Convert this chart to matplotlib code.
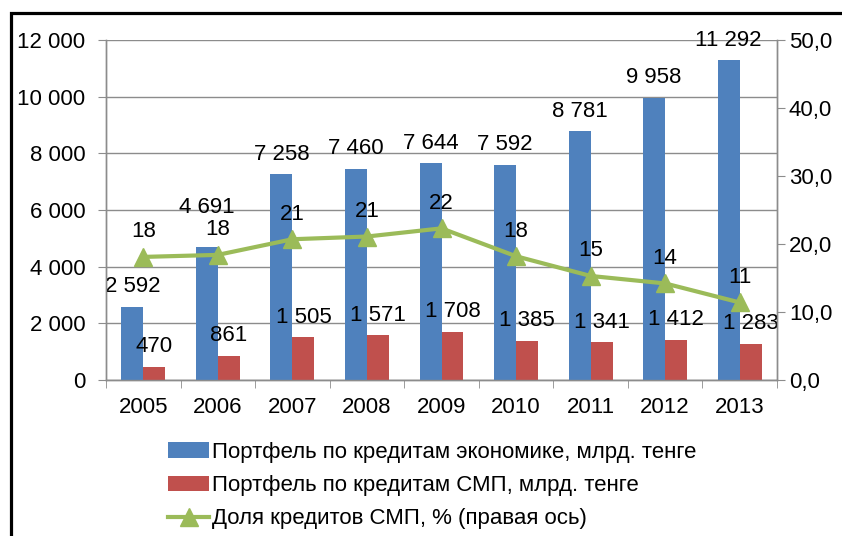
import matplotlib
matplotlib.use("Agg")
import matplotlib.pyplot as plt
from matplotlib.patches import Rectangle
import numpy as np

plt.rcParams['font.family'] = ['Liberation Sans', 'DejaVu Sans']

years = ['2005', '2006', '2007', '2008', '2009', '2010', '2011', '2012', '2013']
economy = [2592, 4691, 7258, 7460, 7644, 7592, 8781, 9958, 11292]
smp = [470, 861, 1505, 1571, 1708, 1385, 1341, 1412, 1283]
share = [18.1, 18.4, 20.7, 21.1, 22.3, 18.2, 15.3, 14.2, 11.4]
share_labels = ['18', '18', '21', '21', '22', '18', '15', '14', '11']

names = ['Портфель по кредитам экономике, млрд. тенге',
         'Портфель по кредитам СМП, млрд. тенге',
         'Доля кредитов СМП, % (правая ось)']

c_blue = '#4F81BD'
c_red = '#C0504D'
c_green = '#9BBB59'
c_grid = '#8C8C8C'
fs = 16


def fmt(v):
    return f"{v:,}".replace(",", " ")


W, H = 842, 536
fig = plt.figure(figsize=(W / 100, H / 100), dpi=100)
ax = fig.add_axes([106 / W, 1 - 380 / H, (777 - 106) / W, (380 - 40) / H])
ax2 = ax.twinx()

x = np.arange(len(years))
bw = 0.295
b1 = ax.bar(x - bw / 2, economy, bw, color=c_blue, zorder=3)
b2 = ax.bar(x + bw / 2, smp, bw, color=c_red, zorder=3)

ax.set_xlim(-0.5, len(years) - 0.5)
ax.set_ylim(0, 12000)
ax.set_yticks(range(0, 12001, 2000))
ax.set_yticklabels([fmt(v) for v in range(0, 12001, 2000)], fontsize=fs)
ax.set_xticks(x)
ax.set_xticklabels(years, fontsize=fs)
ax.set_xticks(np.arange(-0.5, len(years)), minor=True)
ax.tick_params(axis='x', which='major', length=0, pad=12)
ax.tick_params(axis='x', which='minor', length=6, color=c_grid, direction='out')
ax.tick_params(axis='y', length=6, color=c_grid, pad=9)
ax.yaxis.grid(True, color=c_grid, lw=1, zorder=0)
ax.set_axisbelow(True)
for a in (ax, ax2):
    a.spines['top'].set_visible(False)
    for s in ['left', 'right', 'bottom']:
        a.spines[s].set_color(c_grid)
        a.spines[s].set_linewidth(1)

# data labels on bars (the 2006 label was lifted by hand in the original)
for i, (xi, v) in enumerate(zip(x, economy)):
    dy = 40 if i == 1 else 20
    ax.annotate(fmt(v), (xi - bw / 2, v), xytext=(0, dy), textcoords='offset pixels',
                ha='center', va='center', fontsize=fs, zorder=5)
for xi, v in zip(x, smp):
    ax.annotate(fmt(v), (xi + bw / 2, v), xytext=(0, 20), textcoords='offset pixels',
                ha='center', va='center', fontsize=fs, zorder=5)

ax2.set_ylim(0, 50)
ax2.set_yticks(range(0, 51, 10))
ax2.set_yticklabels([f"{v},0" for v in range(0, 51, 10)], fontsize=fs)
ax2.tick_params(axis='y', length=6, color=c_grid, pad=2.5)
ln, = ax2.plot(x, share, color=c_green, lw=3, marker='^', markersize=13,
               zorder=4)
for xi, v, t in zip(x, share, share_labels):
    ax2.annotate(t, (xi, v), xytext=(0, 25), textcoords='offset pixels',
                 ha='center', va='center', fontsize=fs, zorder=5)

fig.legend([b1, b2, ln], names, loc='upper left', bbox_to_anchor=(168 / W, 1 - 442 / H),
           frameon=False, fontsize=fs, handlelength=1.85, handletextpad=0.15,
           labelspacing=0.55, borderpad=0, borderaxespad=0)

# outer frame of the chart
fig.patches.append(Rectangle((11 / W, -0.1), 1.1, 1 - 13 / H + 0.1, transform=fig.transFigure,
                             fill=False, edgecolor='black', lw=2.3))

fig.savefig('out.png', dpi=100)
